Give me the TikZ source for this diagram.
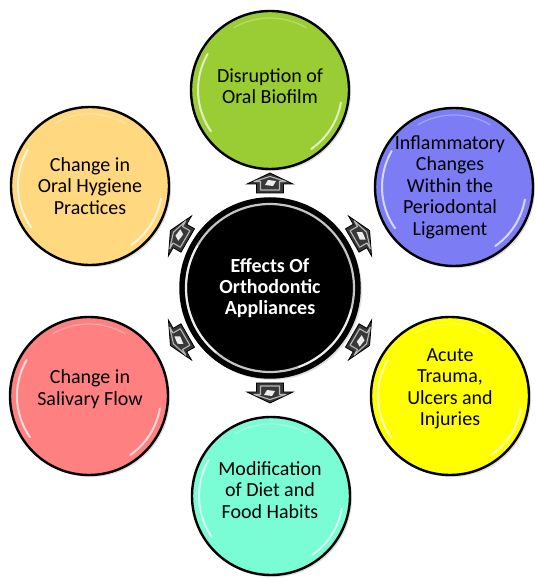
\documentclass[tikz,border=0pt]{standalone}
\usepackage{fontspec}
\setmainfont{Carlito}
\usetikzlibrary{shadows}
\definecolor{cgreen}{RGB}{154,204,51}
\definecolor{cblue}{RGB}{124,124,245}
\definecolor{cyellow}{RGB}{255,255,0}
\definecolor{cteal}{RGB}{122,252,212}
\definecolor{corange}{RGB}{255,216,128}
\definecolor{cred}{RGB}{255,128,128}
\begin{document}
\begin{tikzpicture}[x=1pt,y=1pt,
  bub/.style={circle, draw=black, line width=2.4pt, minimum size=158pt, inner sep=0pt,
    drop shadow={opacity=0.25,shadow xshift=2pt,shadow yshift=-2pt}},
  lbl/.style={align=center, font=\fontsize{20}{21.5}\selectfont, text=black},
  gloss/.style={white, line width=2pt, opacity=0.7, line cap=round},
  barrow/.pic={
    \filldraw[fill=black!78, draw=black, line width=0.8pt]
      (-10,-13.5) -- (-1,-13.5) -- (-1,-23) -- (10,0) -- (-1,23) -- (-1,13.5) -- (-10,13.5) -- cycle;
    \draw[gray!55, line width=1.1pt, line join=round]
      (-7,-9.5) -- (1.5,-9.5) -- (1.5,-16) -- (6.5,0) -- (1.5,16) -- (1.5,9.5) -- (-7,9.5) -- cycle;
    \fill[white!85!gray] (-3,-3) -- (2,-6) -- (3,2) -- (-2,5) -- cycle;
  }
]
\useasboundingbox[fill=white] (0,0) rectangle (536,578);

% outer bubbles
\node[bub, fill=cgreen]  (green)  at (270,488) {};
\node[bub, fill=cblue]   (blue)   at (454,391) {};
\node[bub, fill=cyellow] (yellow) at (450,182) {};
\node[bub, fill=cteal]   (teal)   at (271,82)  {};
\node[bub, fill=cred]    (red)    at (89,182)  {};
\node[bub, fill=corange] (orange) at (90,392)  {};

\foreach \n in {green,blue,yellow,teal,red,orange}{
  \draw[gloss] ([shift={(150:72)}]\n.center) arc[start angle=150,end angle=215,radius=72];
  \draw[gloss] ([shift={(-10:72)}]\n.center) arc[start angle=-10,end angle=-55,radius=72];
  \draw[white, line width=1.2pt, opacity=0.3, line cap=round] ([shift={(60:72)}]\n.center) arc[start angle=60,end angle=120,radius=72];
}

% centre
\node[circle, draw=black, line width=1.5pt, fill=black, minimum size=180pt, inner sep=0pt,
  drop shadow={opacity=0.25,shadow xshift=2pt,shadow yshift=-2pt}] (c) at (270,290) {};
\draw[gray!45, line width=2.2pt] (c.center) circle[radius=84];
\draw[gloss] ([shift={(150:84)}]c.center) arc[start angle=150,end angle=230,radius=84];
\draw[gloss] ([shift={(-15:84)}]c.center) arc[start angle=-15,end angle=-70,radius=84];
\node[align=center, font=\bfseries\fontsize{20}{21}\selectfont, text=white] (ct) at (270,290)
  {Effects Of\\Orthodontic\\Appliances};

% labels
\node[lbl] (greent)  at (270,492) {Disruption of\\Oral Biofilm};
\node[lbl] (bluet)   at (450,391) {Inflammatory\\Changes\\Within the\\Periodontal\\Ligament};
\node[lbl] (yellowt) at (450,189) {Acute\\Trauma,\\Ulcers and\\Injuries};
\node[lbl] (tealt)   at (270,88)  {Modification\\of Diet and\\Food Habits};
\node[lbl] (redt)    at (90,189)  {Change in\\Salivary Flow};
\node[lbl] (oranget) at (90,392)  {Change in\\Oral Hygiene\\Practices};

% arrows
\foreach \a/\nm in {90/a1,30/a2,-30/a3,-90/a4,210/a5,150/a6}{
  \path (c.center) ++(\a:105) coordinate (\nm);
  \pic[rotate=\a] at (\nm) {barrow};
}
\end{tikzpicture}
\end{document}
